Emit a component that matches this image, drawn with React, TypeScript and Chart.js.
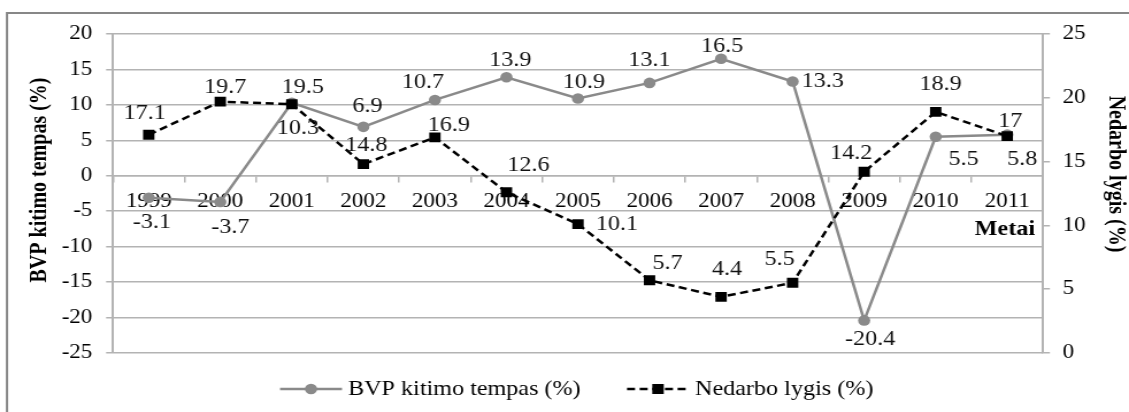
import React, { useEffect, useRef } from 'react';
import { Chart, registerables } from 'chart.js';

Chart.register(...registerables);

const years = ['1999', '2000', '2001', '2002', '2003', '2004', '2005', '2006', '2007', '2008', '2009', '2010', '2011'];
const gdpGrowth = [-3.1, -3.7, 10.3, 6.9, 10.7, 13.9, 10.9, 13.1, 16.5, 13.3, -20.4, 5.5, 5.8];
const unemployment = [17.1, 19.7, 19.5, 14.8, 16.9, 12.6, 10.1, 5.7, 4.4, 5.5, 14.2, 18.9, 17];
const gdpName = 'BVP kitimo tempas (%)';
const unempName = 'Nedarbo lygis (%)';
const leftTitle = 'BVP kitimo tempas (%)';
const rightTitle = 'Nedarbo lygis (%)';
const xTitle = 'Metai';

// label offsets (picture px, relative to the point)
const gdpLabelOffsets = [[3, 25], [10, 25], [6, 26], [4, -20], [-12, -17], [4, -17], [6, -16], [0, -22], [1, -12], [30, 0], [6, 19], [28, 23], [15, 25]];
const unempLabelOffsets = [[-4, -21], [5, -14], [11, -17], [3, -19], [14, -12], [22, -27], [39, 0], [18, -17], [6, -27], [-13, -23], [-13, -18], [5, -27], [3, -15]];

const W = 1129;
const H = 412;
const CW = 982;
const S = W / CW;
const FONT = '"Liberation Serif", "Times New Roman", serif';
const GRAY = '#8a8a8a';
const GRID = '#b3b3b3';

const deco = {
  id: 'deco',
  beforeDraw(chart: any) {
    const ctx = chart.ctx;
    ctx.save();
    ctx.strokeStyle = '#878787';
    ctx.lineWidth = 2;
    ctx.strokeRect(7 / S, 13, CW + 20, H + 20);
    ctx.restore();
  },
  afterDatasetsDraw(chart: any) {
    const ctx = chart.ctx;
    ctx.save();
    ctx.font = `21px ${FONT}`;
    ctx.fillStyle = '#111';
    ctx.textAlign = 'center';
    ctx.textBaseline = 'middle';
    const sets = [
      { idx: 0, vals: gdpGrowth, off: gdpLabelOffsets },
      { idx: 1, vals: unemployment, off: unempLabelOffsets },
    ];
    for (const s of sets) {
      const meta = chart.getDatasetMeta(s.idx);
      meta.data.forEach((pt: any, i: number) => {
        const [dx, dy] = s.off[i];
        ctx.fillText(String(s.vals[i]), pt.x + dx / S, pt.y + dy);
      });
    }
    ctx.restore();
  },
  afterDraw(chart: any) {
    const ctx = chart.ctx;
    ctx.save();
    ctx.fillStyle = '#000';
    // left title
    ctx.font = `bold 20px ${FONT}`;
    ctx.textAlign = 'center';
    ctx.textBaseline = 'middle';
    ctx.save();
    ctx.translate(40 / S, 180);
    ctx.rotate(-Math.PI / 2);
    ctx.fillText(leftTitle, 0, 0);
    ctx.restore();
    // right title
    ctx.save();
    ctx.translate(1115 / S, 174);
    ctx.rotate(Math.PI / 2);
    ctx.fillText(rightTitle, 0, 0);
    ctx.restore();
    // x title
    ctx.font = `bold 21px ${FONT}`;
    ctx.textAlign = 'right';
    ctx.fillText(xTitle, 1035 / S, 230);
    // legend
    const ly = 389;
    ctx.font = `21px ${FONT}`;
    ctx.textAlign = 'left';
    ctx.strokeStyle = GRAY;
    ctx.lineWidth = 2.5;
    ctx.beginPath();
    ctx.moveTo(280 / S, ly);
    ctx.lineTo(342 / S, ly);
    ctx.stroke();
    ctx.fillStyle = GRAY;
    ctx.beginPath();
    ctx.arc(311 / S, ly, 5.3, 0, Math.PI * 2);
    ctx.fill();
    ctx.fillStyle = '#000';
    ctx.fillText(gdpName, 348 / S, ly);
    ctx.strokeStyle = '#000';
    ctx.setLineDash([7, 4]);
    ctx.beginPath();
    ctx.moveTo(627 / S, ly);
    ctx.lineTo(690 / S, ly);
    ctx.stroke();
    ctx.setLineDash([]);
    ctx.fillRect(658 / S - 5, ly - 5, 10, 10);
    ctx.fillText(unempName, 695 / S, ly);
    ctx.restore();
  },
};

export default function App() {
  const ref = useRef<HTMLCanvasElement>(null);
  useEffect(() => {
    if (!ref.current) return;
    const chart = new Chart(ref.current, {
      type: 'line',
      data: {
        labels: years,
        datasets: [
          {
            label: gdpName,
            data: gdpGrowth,
            yAxisID: 'y',
            borderColor: GRAY,
            backgroundColor: GRAY,
            borderWidth: 2.5,
            pointStyle: 'circle',
            pointRadius: 5.3,
            pointBorderWidth: 0,
            tension: 0,
            order: 1,
          },
          {
            label: unempName,
            data: unemployment,
            yAxisID: 'y1',
            borderColor: '#000',
            backgroundColor: '#000',
            borderWidth: 2.5,
            borderDash: [7, 4],
            pointStyle: 'rect',
            pointRadius: 7,
            pointBorderWidth: 0,
            tension: 0,
            order: 0,
          },
        ],
      },
      options: {
        responsive: false,
        maintainAspectRatio: false,
        animation: false,
        layout: { padding: { left: 0, right: 0, top: 34, bottom: 59 } },
        plugins: { legend: { display: false }, tooltip: { enabled: false } },
        scales: {
          x: {
            type: 'category',
            position: { y: 0 } as any,
            offset: true,
            grid: { drawOnChartArea: false, drawTicks: true, tickLength: 6, offset: true, color: GRID, lineWidth: 1.5 },
            border: { display: true, color: GRID, width: 1.5 },
            ticks: { font: { family: FONT, size: 20 }, color: '#000', padding: 8, maxRotation: 0, autoSkip: false },
          },
          y: {
            position: 'left',
            min: -25,
            max: 20,
            ticks: { stepSize: 5, font: { family: FONT, size: 20 }, color: '#000', padding: 12 },
            grid: { color: GRID, lineWidth: 1.5, drawTicks: true, tickLength: 6 },
            border: { display: true, color: GRID, width: 2 },
            afterFit(s: any) { s.width = 113 / S; },
          },
          y1: {
            position: 'right',
            min: 0,
            max: 25,
            ticks: { stepSize: 5, font: { family: FONT, size: 20 }, color: '#000', padding: 11 },
            grid: { drawOnChartArea: false, color: GRID, lineWidth: 1.5, drawTicks: true, tickLength: 6 },
            border: { display: true, color: GRID, width: 2 },
            afterFit(s: any) { s.width = CW - 1043 / S; },
          },
        },
      },
      plugins: [deco],
    });
    return () => chart.destroy();
  }, []);
  return (
    <div style={{ position: 'absolute', left: 0, top: 0, width: W, height: H, background: '#fff' }}>
      <canvas ref={ref} width={CW} height={H} style={{ width: `${W}px`, height: `${H}px`, display: 'block' }} />
    </div>
  );
}
